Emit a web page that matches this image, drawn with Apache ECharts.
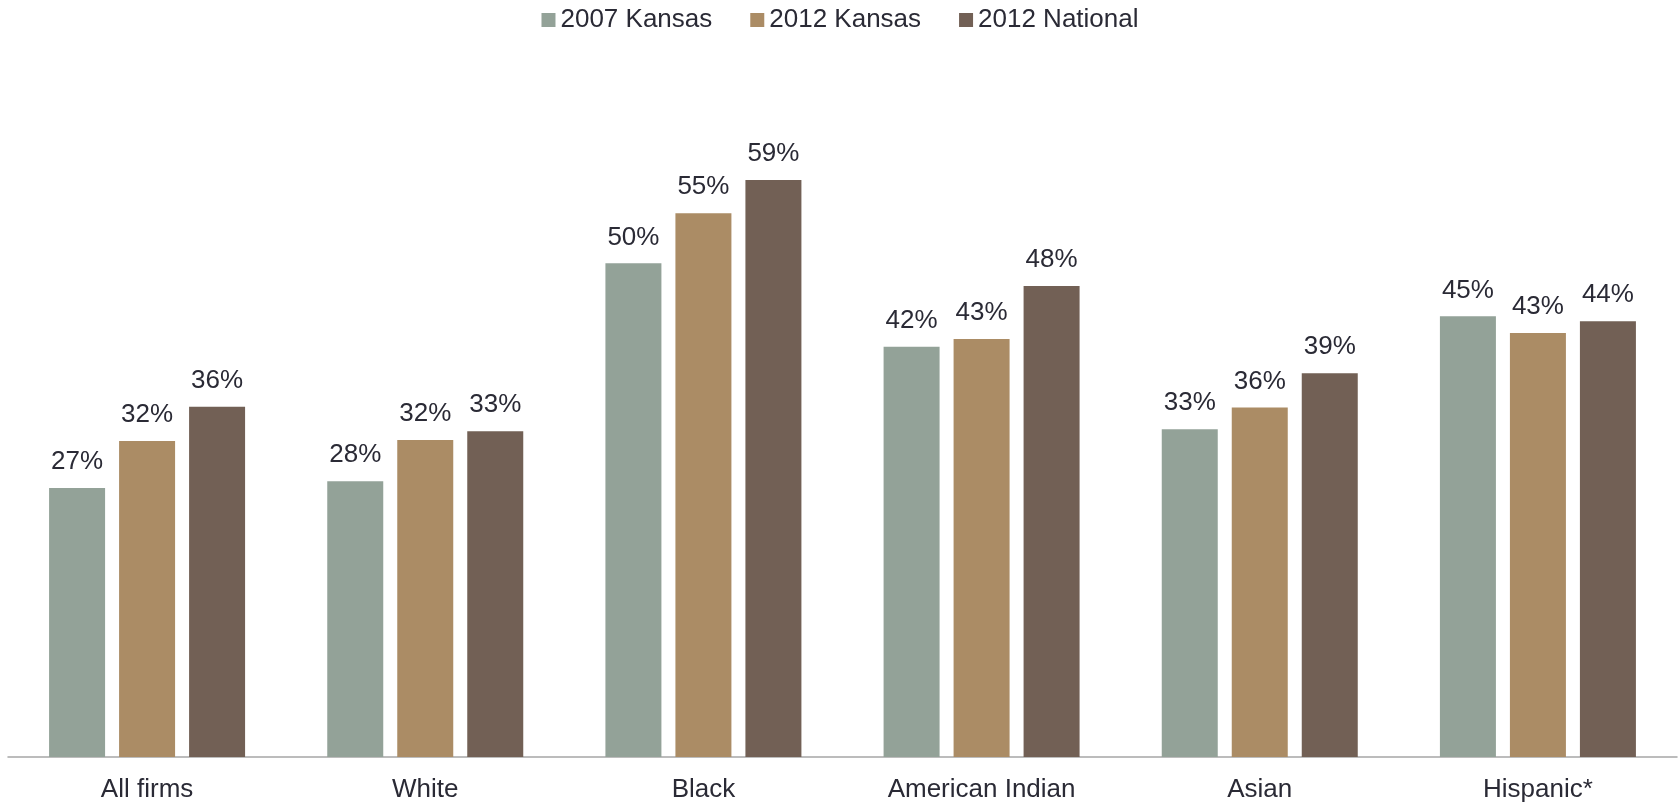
<!DOCTYPE html>
<html>
<head>
<meta charset="utf-8">
<style>
  html, body { margin: 0; padding: 0; background: #ffffff; }
  #chart { width: 1680px; height: 803px; }
</style>
<script src="https://cdn.jsdelivr.net/npm/echarts@6/dist/echarts.min.js"></script>
</head>
<body>
<div id="chart"></div>
<script>
const categories = ['All firms', 'White', 'Black', 'American Indian', 'Asian', 'Hispanic*'];
const seriesNames = ['2007 Kansas', '2012 Kansas', '2012 National'];
const kansas2007 = [27.4, 28.1, 50.3, 41.8, 33.4, 44.9];
const kansas2012 = [32.2, 32.3, 55.4, 42.6, 35.6, 43.2];
const national2012 = [35.7, 33.2, 58.8, 48.0, 39.1, 44.4];
const colors = ['#93a298', '#ab8c65', '#726055'];

const textColor = '#2a2a35';
const fontFamily = '"Liberation Sans", Arial, sans-serif';

const chart = echarts.init(document.getElementById('chart'), null, { renderer: 'canvas' });

function makeSeries(name, data, color) {
  return {
    name: name,
    type: 'bar',
    data: data,
    barWidth: 56,
    barGap: '25%',
    itemStyle: { color: color },
    label: {
      show: true,
      position: 'top',
      distance: 13,
      color: textColor,
      fontFamily: fontFamily,
      fontSize: 26,
      formatter: p => Math.round(p.value) + '%'
    },
    emphasis: { disabled: true }
  };
}

chart.setOption({
  animation: false,
  color: colors,
  legend: {
    data: seriesNames,
    top: 2,
    left: 'center',
    itemWidth: 14,
    itemHeight: 14,
    itemGap: 38,
    icon: 'rect',
    textStyle: { color: textColor, fontFamily: fontFamily, fontSize: 26 }
  },
  grid: { left: 8, right: 3, top: 70, bottom: 46, containLabel: false },
  xAxis: {
    type: 'category',
    data: categories,
    axisLine: { show: true, lineStyle: { color: '#a6a6a6', width: 1.5 } },
    axisTick: { show: false },
    axisLabel: { color: textColor, fontFamily: fontFamily, fontSize: 26, margin: 20 }
  },
  yAxis: {
    type: 'value',
    min: 0,
    max: 70,
    show: false,
    splitLine: { show: false }
  },
  series: [
    makeSeries(seriesNames[0], kansas2007, colors[0]),
    makeSeries(seriesNames[1], kansas2012, colors[1]),
    makeSeries(seriesNames[2], national2012, colors[2])
  ]
});
</script>
</body>
</html>
